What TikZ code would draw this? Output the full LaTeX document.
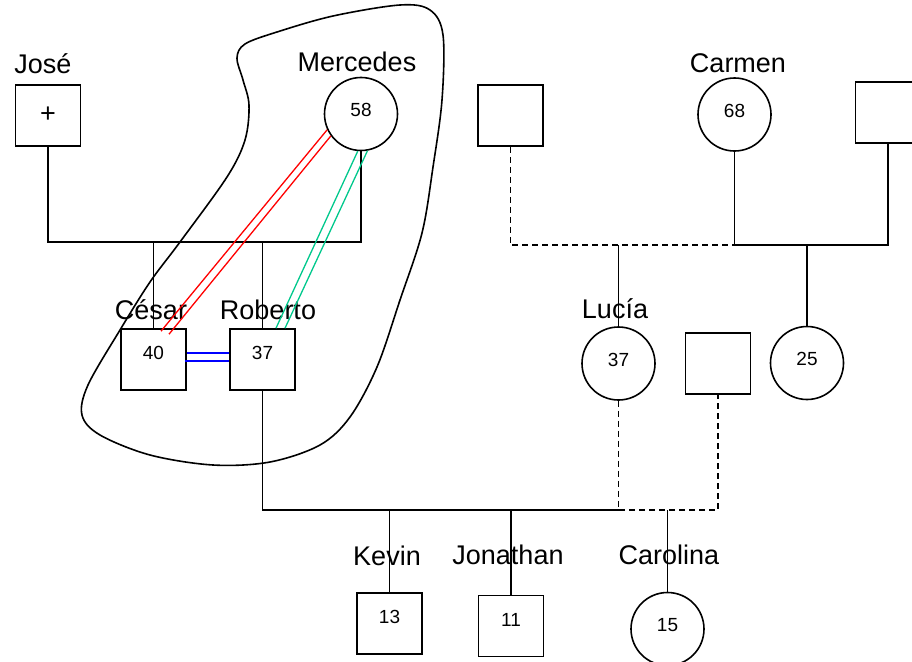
\documentclass[tikz,border=0pt]{standalone}
\usepackage{fontspec}
\setmainfont{Liberation Sans}
\usetikzlibrary{positioning}
\definecolor{tiegreen}{RGB}{0,200,140}
\tikzstyle{male} = [draw, rectangle, minimum width=65pt, minimum height=61pt, inner sep=0pt, font=\fontsize{19}{19}\selectfont, text height=0pt, text depth=0pt]
\tikzstyle{female} = [draw, circle, minimum size=73pt, inner sep=0pt, font=\fontsize{19}{19}\selectfont, text height=5pt, text depth=0pt]
\tikzstyle{who} = [inner sep=0pt, font=\fontsize{27}{27}\selectfont]
\tikzstyle{line} = [draw]
\tikzstyle{dashline} = [draw, dash pattern=on 6pt off 4pt]

\begin{document}
\begin{tikzpicture}[x=1pt, y=-1pt, line width=1.6pt]
	\useasboundingbox (0,0) rectangle (912,661);
	\clip (0,0) rectangle (912,661);

	% first generation
	\node [male, font=\fontsize{27}{27}\selectfont, text height=14pt] (jose) at (48,115.5) {+};
	\node [female] (merc) at (361,114) {58};
	\node [male] (unk1) at (510.5,115.5) {};
	\node [female] (carmen) at (734.5,114.5) {68};
	\node [male] (unk2) at (888,112.5) {};

	% second generation
	\node [male] (cesar) at (153.5,359.5) {40};
	\node [male] (roberto) at (262.5,359.5) {37};
	\node [female] (lucia) at (618.5,363.5) {37};
	\node [male] (partner) at (718,363.5) {};
	\node [female] (sis) at (807,363) {25};

	% third generation
	\node [male] (kevin) at (389.5,623.5) {13};
	\node [male] (jonathan) at (511,626) {11};
	\node [female] (carolina) at (667.5,629) {15};

	% names
	\node [who, above=10pt of jose, xshift=-5pt] (joseName) {José};
	\node [who, above=4pt of merc, xshift=-4pt] (mercName) {Mercedes};
	\node [who, above=4pt of carmen, xshift=3.5pt] (carmenName) {Carmen};
	\node [who, above=8pt of cesar, xshift=-2.5pt] (cesarName) {César};
	\node [who, above=8pt of roberto, xshift=5.5pt] (robertoName) {Roberto};
	\node [who, above=7pt of lucia, xshift=-3.5pt] (luciaName) {Lucía};
	\node [who, above=26pt of kevin, xshift=-2.5pt] (kevinName) {Kevin};
	\node [who, above=29pt of jonathan, xshift=-3pt] (jonathanName) {Jonathan};
	\node [who, above=26pt of carolina, xshift=1.5pt] (carolinaName) {Carolina};

	\coordinate (tie1) at (0,242);
	\coordinate (tie2) at (0,245);
	\coordinate (tie3) at (0,510);

	% family lines
	\path [line] (jose.south) |- (tie1 -| merc.south) -- (merc.south);
	\path [line] (cesar.north) -- (cesar.north |- tie1);
	\path [line] (roberto.north) -- (roberto.north |- tie1);
	\path [dashline] (unk1.south) |- (tie2 -| carmen.south);
	\path [line] (carmen.south) |- (tie2 -| unk2.south) -- (unk2.south);
	\path [line] (lucia.north) -- (lucia.north |- tie2);
	\path [line] (sis.north) -- (sis.north |- tie2);
	\path [line] (roberto.south) |- (tie3 -| lucia.south);
	\path [dashline] (lucia.south) -- (lucia.south |- tie3) -- (tie3 -| partner.south) -- (partner.south);
	\path [line] (kevin.north) -- (kevin.north |- tie3);
	\path [line] (jonathan.north) -- (jonathan.north |- tie3);
	\path [line] (carolina.north) -- (carolina.north |- tie3);

	% relations
	\draw [red, line width=1.3pt] (merc.205) -- ([xshift=7.5pt, yshift=-3pt]cesar.north);
	\draw [red, line width=1.3pt] (merc.216) -- ([xshift=15.5pt, yshift=-6pt]cesar.north);
	\draw [tiegreen, line width=1.3pt] (merc.265) -- ([xshift=13.5pt]roberto.north);
	\draw [tiegreen, line width=1.3pt] (merc.280) -- ([xshift=22.5pt]roberto.north);
	\draw [blue, line width=1.3pt] ([yshift=6.5pt]cesar.east) -- ([yshift=6.5pt]roberto.west);
	\draw [blue, line width=1.3pt] ([xshift=-2pt, yshift=-1.5pt]cesar.east) -- ([yshift=-1.5pt]roberto.west);

	% household
	\draw plot [smooth cycle, tension=0.55] coordinates {(277,32) (333,16) (400,5) (430,10) (443,35) (442,100) (433,167) (422,233) (400,300) (377,367) (350,417) (320,445) (270,462) (213,465) (150,455) (100,435) (82,415) (88,385) (120,330) (150,282) (180,242) (227,177) (245,140) (249,105) (243,80) (237,58) (245,44)};
\end{tikzpicture}
\end{document}
